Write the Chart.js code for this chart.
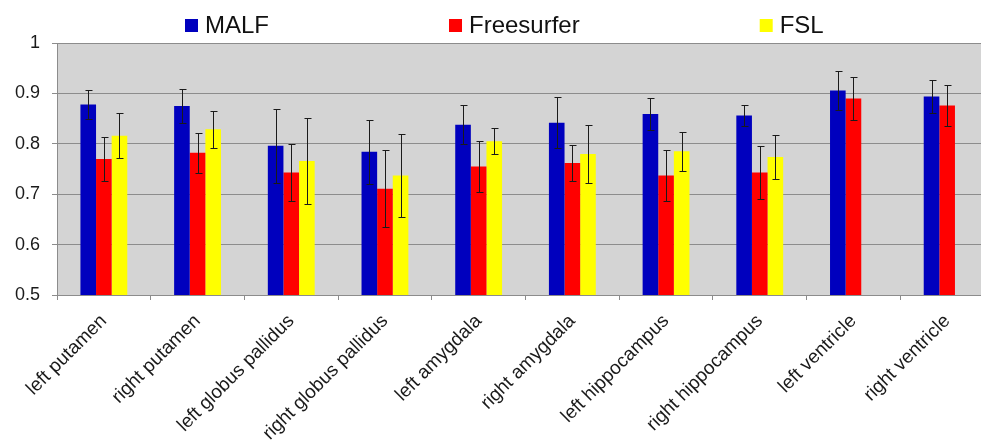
<!DOCTYPE html>
<html><head><meta charset="utf-8">
<script src="https://cdn.jsdelivr.net/npm/chart.js@4/dist/chart.umd.min.js"></script>
<style>
html,body{margin:0;padding:0;background:#fff;overflow:hidden;width:981px;height:440px}
#wrap{position:relative;width:994px;height:440px}
</style></head>
<body><div id="wrap"><canvas id="c"></canvas></div>
<script>
const categories = ['left putamen','right putamen','left globus pallidus','right globus pallidus','left amygdala','right amygdala','left hippocampus','right hippocampus','left ventricle','right ventricle'];
const seriesNames = ['MALF','Freesurfer','FSL'];
const malf       = [0.878,0.875,0.796,0.784,0.838,0.842,0.859,0.856,0.906,0.894];
const malfSd     = [0.028,0.033,0.074,0.063,0.039,0.051,0.031,0.021,0.039,0.032];
const freesurfer   = [0.770,0.782,0.743,0.711,0.755,0.762,0.737,0.743,0.890,0.876];
const freesurferSd = [0.043,0.039,0.057,0.076,0.050,0.036,0.051,0.053,0.043,0.041];
const fsl   = [0.816,0.829,0.766,0.737,0.805,0.780,0.785,0.774,null,null];
const fslSd = [0.045,0.037,0.086,0.083,0.026,0.058,0.038,0.043,null,null];
const yMin = 0.5, yMax = 1, yStep = 0.1;

const colors = ['#0000BE','#FF0000','#FFFF00'];
const sds = [malfSd, freesurferSd, fslSd];
const GRID = '#8c8c8c';

const bgPlugin = {
  id:'bg',
  beforeDraw(chart){
    const {ctx, chartArea:a} = chart;
    ctx.save(); ctx.fillStyle = '#d4d4d4';
    ctx.fillRect(a.left, a.top, a.right-a.left, a.bottom-a.top);
    ctx.restore();
  }
};
const errPlugin = {
  id:'err',
  afterDatasetsDraw(chart){
    const ctx = chart.ctx, ys = chart.scales.y;
    ctx.save(); ctx.strokeStyle = '#1a1a1a'; ctx.lineWidth = 1;
    chart.data.datasets.forEach((ds, i) => {
      const meta = chart.getDatasetMeta(i);
      meta.data.forEach((bar, j) => {
        const v = ds.data[j], s = sds[i][j];
        if (v == null || s == null) return;
        const x = Math.round(bar.x) + 0.5;
        const yt = Math.round(ys.getPixelForValue(v + s)) + 0.5;
        const yb = Math.round(ys.getPixelForValue(v - s)) + 0.5;
        ctx.beginPath();
        ctx.moveTo(x, yt); ctx.lineTo(x, yb);
        ctx.moveTo(x-3, yt); ctx.lineTo(x+4, yt);
        ctx.moveTo(x-3, yb); ctx.lineTo(x+4, yb);
        ctx.stroke();
      });
    });
    ctx.restore();
  }
};
const legendPlugin = {
  id:'customLegend',
  afterDraw(chart){
    const ctx = chart.ctx;
    ctx.save();
    ctx.font = '24px "Liberation Sans", Arial, sans-serif';
    ctx.textBaseline = 'alphabetic';
    let x = 185; const box = 13, gap = 180;
    chart.data.datasets.forEach(ds => {
      ctx.fillStyle = ds.backgroundColor;
      ctx.fillRect(x, 19, box, box);
      ctx.fillStyle = '#111';
      ctx.fillText(ds.label, x + box + 7, 33);
      x += box + 7 + ctx.measureText(ds.label).width + gap;
    });
    ctx.restore();
  }
};

new Chart(document.getElementById('c'), {
  type:'bar',
  data:{
    labels: categories,
    datasets:[
      {label:seriesNames[0], data:malf, backgroundColor:colors[0]},
      {label:seriesNames[1], data:freesurfer, backgroundColor:colors[1]},
      {label:seriesNames[2], data:fsl, backgroundColor:colors[2]}
    ]
  },
  options:{
    responsive:true, maintainAspectRatio:false, animation:false,
    devicePixelRatio:1,
    layout:{padding:{top:43,left:0,right:0,bottom:0}},
    datasets:{bar:{categoryPercentage:0.5, barPercentage:1.0, borderWidth:0}},
    plugins:{legend:{display:false}, tooltip:{enabled:false}},
    scales:{
      x:{
        grid:{display:true, offset:true, drawOnChartArea:false, drawTicks:true, tickLength:5, color:GRID},
        border:{display:true, color:GRID},
        ticks:{autoSkip:false, maxRotation:45, minRotation:45, padding:10, color:'#1a1a1a',
               font:{family:'"Liberation Sans", Arial, sans-serif', size:19}},
        afterFit(s){ s.height = 145; }
      },
      y:{
        min:yMin, max:yMax,
        grid:{color:GRID, drawTicks:true, tickLength:5, tickColor:GRID},
        border:{display:true, color:GRID},
        ticks:{stepSize:yStep, padding:12, color:'#1a1a1a',
               font:{family:'"Liberation Sans", Arial, sans-serif', size:18},
               callback:v => String(Number(v.toFixed(1)))},
        afterFit(s){ s.width = 57; }
      }
    }
  },
  plugins:[bgPlugin, errPlugin, legendPlugin]
});
</script></body></html>
